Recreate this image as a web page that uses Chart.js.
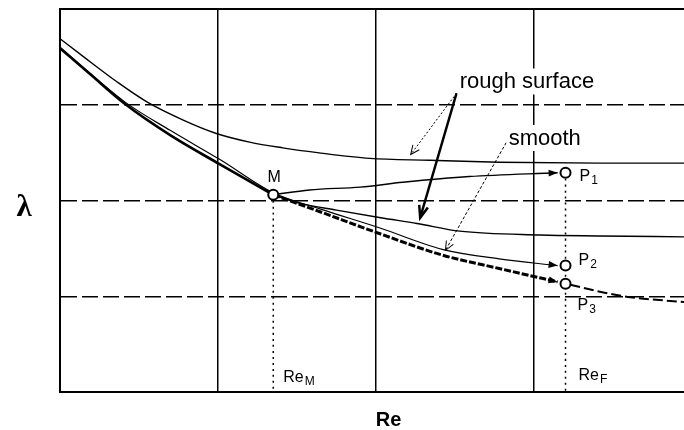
<!DOCTYPE html>
<html>
<head>
<meta charset="utf-8">
<script src="https://cdn.jsdelivr.net/npm/chart.js@4"></script>
<style>
  html, body { margin: 0; padding: 0; background: #fff; overflow: hidden; }
  canvas { display: block; }
</style>
</head>
<body>
<canvas id="lambdaChart" width="684" height="430"></canvas>
<script>
// schematic: Re and lambda in grid units (one grid cell = 1)
const roughUpperX = [0, 0.15, 0.36, 0.55, 0.78, 0.99, 1.20, 1.41, 1.63, 1.96, 2.34, 2.78, 3.42, 3.95];
const roughUpperY = [3.69, 3.50, 3.24, 3.03, 2.84, 2.70, 2.61, 2.55, 2.50, 2.44, 2.42, 2.40, 2.39, 2.39];

const smoothThinX = [0, 0.41, 0.70, 1.01, 1.35, 1.65, 2.03, 2.42, 2.78, 3.15];
const smoothThinY = [3.60, 3.03, 2.73, 2.43, 2.08, 1.91, 1.71, 1.49, 1.39, 1.32];

const smoothThickX = [0, 0.19, 0.41, 0.70, 1.01, 1.35];
const smoothThickY = [3.59, 3.32, 3.01, 2.68, 2.38, 2.06];
const smoothMidX = [1.35, 1.65, 2.03, 2.42, 2.78, 3.15];
const smoothMidY = [2.06, 1.88, 1.65, 1.43, 1.29, 1.15];
const smoothTailX = [3.23, 3.44, 3.61, 3.95];
const smoothTailY = [1.12, 1.04, 0.99, 0.94];

const roughLowerX = [1.35, 1.52, 1.75, 2.03, 2.26, 2.53, 3.04, 3.42, 3.95];
const roughLowerY = [2.06, 1.97, 1.90, 1.82, 1.76, 1.68, 1.64, 1.63, 1.62];

const toP1X = [1.35, 1.58, 1.90, 2.17, 2.59, 3.15];
const toP1Y = [2.06, 2.11, 2.14, 2.19, 2.25, 2.29];

// marked points M, P1, P2, P3
const pointNames = ['M', 'P1', 'P2', 'P3'];
const pointX = [1.35, 3.20, 3.20, 3.20];
const pointY = [2.06, 2.29, 1.32, 1.13];

// pointer lines from the labels
const ptrRoughAX = [2.51, 2.22], ptrRoughAY = [3.12, 2.48];
const ptrRoughBX = [2.51, 2.28], ptrRoughBY = [3.12, 1.82];
const ptrSmoothX = [2.84, 2.44], ptrSmoothY = [2.65, 1.48];

const pts = (xs, ys) => xs.map((x, i) => ({ x: x, y: ys[i] }));

function line(xs, ys, extra) {
  return Object.assign({
    data: pts(xs, ys),
    showLine: true,
    borderColor: '#000',
    backgroundColor: '#000',
    borderWidth: 1.5,
    pointRadius: 0,
    cubicInterpolationMode: 'monotone'
  }, extra || {});
}

const FONT = '"Liberation Sans", Arial, sans-serif';

function drawSubText(ctx, x, y, text, size, align) {
  const main = text.length > 2 && text.startsWith('Re') ? 'Re' : text.charAt(0);
  const sub = text.slice(main.length);
  ctx.font = size + 'px ' + FONT;
  const w1 = ctx.measureText(main).width;
  ctx.font = Math.round(size * 0.72) + 'px ' + FONT;
  const w2 = ctx.measureText(sub).width;
  let left = x;
  if (align === 'center') left = x - (w1 + w2) / 2;
  ctx.textAlign = 'left';
  ctx.font = size + 'px ' + FONT;
  ctx.fillText(main, left, y);
  ctx.font = Math.round(size * 0.72) + 'px ' + FONT;
  ctx.fillText(sub, left + w1 + 1, y + 3);
}

const annotations = {
  id: 'annotations',
  afterDatasetsDraw(chart) {
    const ctx = chart.ctx;
    const xs = chart.scales.x, ys = chart.scales.y;
    const area = chart.chartArea;
    ctx.save();

    // top frame line
    ctx.strokeStyle = '#000';
    ctx.lineWidth = 2;
    ctx.beginPath();
    ctx.moveTo(area.left, area.top);
    ctx.lineTo(area.right, area.top);
    ctx.stroke();

    // arrowheads at the end of flagged datasets
    chart.data.datasets.forEach((ds, i) => {
      if (!ds.arrow) return;
      const el = chart.getDatasetMeta(i).data;
      const a = el[el.length - 2], b = el[el.length - 1];
      const ang = Math.atan2(b.y - a.y, b.x - a.x);
      ctx.save();
      ctx.translate(b.x, b.y);
      ctx.rotate(ang);
      ctx.setLineDash([]);
      ctx.fillStyle = '#000';
      ctx.strokeStyle = '#000';
      ctx.beginPath();
      if (ds.arrow.open) {
        ctx.moveTo(-ds.arrow.len, -ds.arrow.half);
        ctx.lineTo(0, 0);
        ctx.lineTo(-ds.arrow.len, ds.arrow.half);
        ctx.lineWidth = ds.arrow.width || 1;
        ctx.stroke();
      } else {
        ctx.moveTo(0, 0);
        ctx.lineTo(-ds.arrow.len, -ds.arrow.half);
        ctx.lineTo(-ds.arrow.len, ds.arrow.half);
        ctx.closePath();
        ctx.fill();
      }
      ctx.restore();
    });

    ctx.fillStyle = '#000';
    ctx.textBaseline = 'alphabetic';

    // big labels with white boxes (they cut the grid line)
    [['rough surface', 2.53, 3.17], ['smooth', 2.84, 2.58]].forEach(([t, vx, vy]) => {
      const px = xs.getPixelForValue(vx), py = ys.getPixelForValue(vy);
      ctx.font = '22px ' + FONT;
      const w = ctx.measureText(t).width;
      ctx.fillStyle = '#fff';
      ctx.fillRect(px - 2, py - 20, w + 4, 26);
      ctx.fillStyle = '#000';
      ctx.textAlign = 'left';
      ctx.fillText(t, px, py);
    });

    // point labels
    const offs = [[1, -13, 'center'], [14, 8, 'left'], [13, -1, 'left'], [12, 26, 'left']];
    pointNames.forEach((n, i) => {
      const px = xs.getPixelForValue(pointX[i]) + offs[i][0];
      const py = ys.getPixelForValue(pointY[i]) + offs[i][1];
      drawSubText(ctx, px, py, n, 16, offs[i][2]);
    });

    // Re_M and Re_F at the foot of the dotted lines
    drawSubText(ctx, xs.getPixelForValue(pointX[0]) + 10, area.bottom - 10, 'ReM', 16, 'left');
    drawSubText(ctx, xs.getPixelForValue(pointX[1]) + 13, area.bottom - 12, 'ReF', 16, 'left');

    // axis names
    ctx.font = 'bold 20px ' + FONT;
    ctx.textAlign = 'center';
    ctx.fillText('Re', xs.getPixelForValue(2.08), area.bottom + 34);
    ctx.font = 'bold 31px "Liberation Serif", serif';
    ctx.fillText('λ', 24, (area.top + area.bottom) / 2 + 15);

    ctx.restore();
  }
};

new Chart(document.getElementById('lambdaChart').getContext('2d'), {
  type: 'scatter',
  data: {
    datasets: [
      {
        data: pts(pointX, pointY),
        pointRadius: 5,
        pointBorderWidth: 2,
        pointBorderColor: '#000',
        pointBackgroundColor: '#fff',
        showLine: false,
        order: -1
      },
      line(roughUpperX, roughUpperY, { borderWidth: 1.4 }),
      line(smoothThinX, smoothThinY, { borderWidth: 1.2, arrow: { len: 9, half: 3.5 } }),
      line(smoothThickX, smoothThickY, { borderWidth: 2.6 }),
      line(smoothMidX, smoothMidY, { borderWidth: 3, borderDash: [7, 2], arrow: { len: 9, half: 3.5 } }),
      line(smoothTailX, smoothTailY, { borderWidth: 2, borderDash: [10, 4] }),
      line(roughLowerX, roughLowerY, { borderWidth: 1.4 }),
      line(toP1X, toP1Y, { borderWidth: 1.4, arrow: { len: 9, half: 3.5 } }),
      line([pointX[0], pointX[0]], [pointY[0], 0], { borderWidth: 1.5, borderDash: [2, 4] }),
      line([pointX[1], pointX[1]], [pointY[1], 0], { borderWidth: 1.5, borderDash: [2, 4] }),
      line(ptrRoughAX, ptrRoughAY, { borderWidth: 1, borderDash: [2, 2], arrow: { len: 9, half: 4, open: true } }),
      line(ptrRoughBX, ptrRoughBY, { borderWidth: 2.5, arrow: { len: 12, half: 4.5, open: true, width: 2.5 } }),
      line(ptrSmoothX, ptrSmoothY, { borderWidth: 1, borderDash: [3, 2], arrow: { len: 9, half: 4, open: true } })
    ]
  },
  options: {
    responsive: false,
    animation: false,
    layout: { autoPadding: false, padding: { left: 60, top: 9, right: 0, bottom: 38 } },
    plugins: {
      legend: { display: false },
      tooltip: { enabled: false }
    },
    scales: {
      x: {
        type: 'linear',
        min: 0,
        max: 3.95,
        ticks: { display: false, stepSize: 1, includeBounds: false },
        grid: { color: '#000', lineWidth: 1.5, drawTicks: false },
        border: { display: true, color: '#000', width: 2 }
      },
      y: {
        type: 'linear',
        min: 0,
        max: 4,
        ticks: { display: false, stepSize: 1 },
        grid: {
          color: (c) => (c.tick && (c.tick.value === 0 || c.tick.value === 4)) ? 'rgba(0,0,0,0)' : '#000',
          lineWidth: 1.5,
          drawTicks: false
        },
        border: { display: true, color: '#000', width: 2, dash: [16, 5] }
      }
    }
  },
  plugins: [annotations]
});
</script>
</body>
</html>
